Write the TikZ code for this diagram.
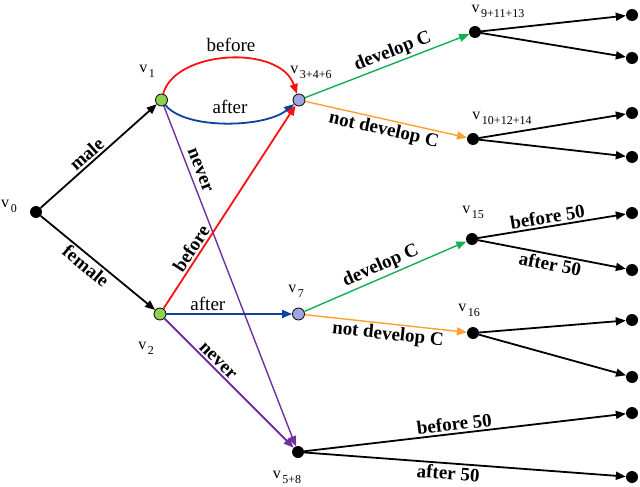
\documentclass[tikz,border=0pt]{standalone}
\usepackage{fontspec}
\setmainfont{Liberation Serif}
\usetikzlibrary{arrows.meta}
\definecolor{nodegreen}{HTML}{8FD050}
\definecolor{nodelav}{HTML}{A0A4E0}
\definecolor{ered}{HTML}{FF1010}
\definecolor{eblue}{HTML}{1040A0}
\definecolor{epurple}{HTML}{7030A0}
\definecolor{egreen}{HTML}{10B050}
\definecolor{eorange}{HTML}{FFA030}
\newcommand{\myv}[1]{v\kern1.5pt\raisebox{-0.3em}{\fontsize{12}{12}\selectfont #1}}
\begin{document}
\begin{tikzpicture}[x=1pt,y=-1pt,
 dot/.style={circle,fill=black,minimum size=12pt,inner sep=0pt},
 gnode/.style={circle,draw=black,line width=0.8pt,fill=nodegreen,minimum size=12pt,inner sep=0pt},
 lnode/.style={circle,draw=black,line width=0.8pt,fill=nodelav,minimum size=12pt,inner sep=0pt},
 edge/.style={line width=1.8pt,-{Triangle[length=10pt,width=8pt]}},
 thinedge/.style={line width=1.4pt,-{Triangle[length=10pt,width=8pt]}},
 lab/.style={font=\fontsize{19}{19}\selectfont,inner sep=2pt,text=black},
 blab/.style={font=\fontsize{19}{19}\selectfont\bfseries,sloped,inner sep=2pt,text=black},
 vlab/.style={font=\fontsize{16}{16}\selectfont,inner sep=0pt,text=black}
]
\useasboundingbox (0,0) rectangle (640,487);
% main nodes
\node[dot] (v0) at (36,212) {};
\node[gnode] (v1) at (161.5,100) {};
\node[gnode] (v2) at (160,314) {};
\node[lnode] (v3) at (299,100) {};
\node[lnode] (v7) at (298.5,314) {};
\node[dot] (v58) at (298,452) {};
\node[dot] (v9) at (475,32) {};
\node[dot] (v10) at (473,139) {};
\node[dot] (v15) at (472,239) {};
\node[dot] (v16) at (473,333) {};
% leaves
\node[dot] (l1) at (632,15) {};
\node[dot] (l2) at (632,58) {};
\node[dot] (l3) at (632,113) {};
\node[dot] (l4) at (632,157) {};
\node[dot] (l5) at (632,213) {};
\node[dot] (l6) at (632,270) {};
\node[dot] (l7) at (632,320) {};
\node[dot] (l8) at (632,377) {};
\node[dot] (l9) at (632,413) {};
\node[dot] (l10) at (632,477) {};
% vertex labels
\node[vlab] (t0) at (9,206) {\myv{0}};
\node[vlab] (t1) at (147,71) {\myv{1}};
\node[vlab] (t2) at (146,348) {\myv{2}};
\node[vlab] (t3) at (311,72) {\myv{3+4+6}};
\node[vlab] (t7) at (296,291) {\myv{7}};
\node[vlab] (t58) at (287,477) {\myv{5+8}};
\node[vlab] (t9) at (498,11) {\myv{9+11+13}};
\node[vlab] (t10) at (502,118) {\myv{10+12+14}};
\node[vlab] (t15) at (473,212) {\myv{15}};
\node[vlab] (t16) at (469,310) {\myv{16}};
% edges from v0
\draw[edge] (v0) -- node[blab,above,pos=0.45] {male} (v1);
\draw[edge] (v0) -- node[blab,below,pos=0.45] {female} (v2);
% from v1
\draw[edge,ered] (v1) .. controls (175,50) and (280,44) .. (v3);
\node[lab] (lb1) at (231,45) {before};
\draw[edge,eblue] (v1) .. controls (185,130) and (265,128) .. (v3);
\node[lab] (la1) at (230,107) {after};
\draw[thinedge,epurple] (v1) -- node[blab,above=3pt,pos=0.2] {never} (v58);
% from v2
\draw[edge,ered] (v2) -- node[blab,above,pos=0.27] {before} (v3);
\draw[edge,eblue] (v2) -- node[lab,above,pos=0.33] {after} (v7);
\draw[edge,epurple] (v2) -- node[blab,above,pos=0.37] {never} (v58);
% from v3
\draw[thinedge,egreen] (v3) -- node[blab,above,pos=0.56] {develop C} (v9);
\draw[thinedge,eorange] (v3) -- node[blab,below,pos=0.5] {not develop C} (v10);
% from v7
\draw[thinedge,egreen] (v7) -- node[blab,above,pos=0.5] {develop C} (v15);
\draw[thinedge,eorange] (v7) -- node[blab,below,pos=0.52] {not develop C} (v16);
% to leaves
\draw[edge] (v9) -- (l1);
\draw[edge] (v9) -- (l2);
\draw[edge] (v10) -- (l3);
\draw[edge] (v10) -- (l4);
\draw[edge] (v15) -- node[blab,above,pos=0.48] {before 50} (l5);
\draw[edge] (v15) -- node[blab,below,pos=0.5] {after 50} (l6);
\draw[edge] (v16) -- (l7);
\draw[edge] (v16) -- (l8);
\draw[edge] (v58) -- node[blab,above,pos=0.47] {before 50} (l9);
\draw[edge] (v58) -- node[blab,below,pos=0.45] {after 50} (l10);
\end{tikzpicture}
\end{document}
